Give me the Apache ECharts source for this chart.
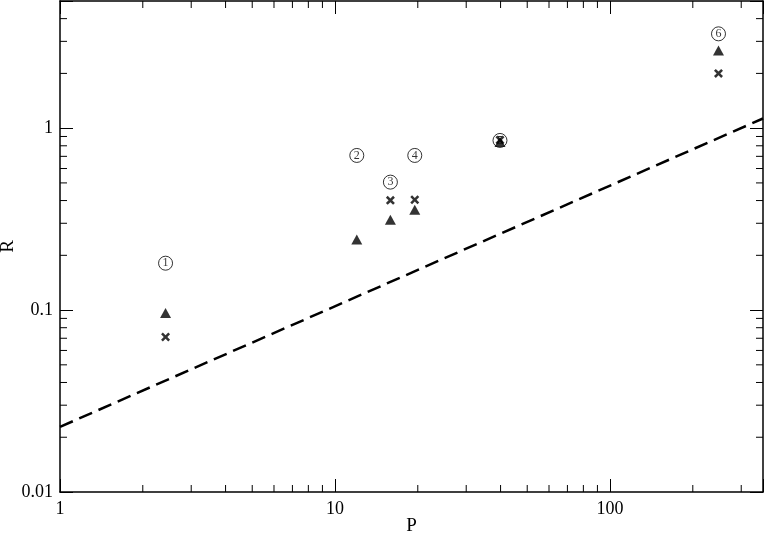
<!DOCTYPE html>
<html>
<head>
<meta charset="utf-8">
<script src="https://cdn.jsdelivr.net/npm/echarts@6/dist/echarts.min.js"></script>
<style>
  html, body { margin: 0; padding: 0; background: #fff; }
  #chart { width: 764px; height: 533px; }
</style>
</head>
<body>
<div id="chart"></div>
<script>
// values
var pValues = [2.42, 12.0, 15.9, 19.5, 39.8, 248];
var tagNames = ['1', '2', '3', '4', '5', '6'];
var tagR = [0.181, 0.708, 0.505, 0.708, 0.856, 3.30];
var triangleR = [0.0963, 0.244, 0.314, 0.356, 0.84, 2.67];
var crossR = [0.0711, null, 0.401, 0.404, 0.86, 2.00];
var fitLine = [[1, 0.0228], [360, 1.13]];

var xMin = 1, xMax = 360, yMin = 0.01, yMax = 5;
var xMinorTicks = [2, 3, 4, 5, 6, 7, 8, 9, 20, 30, 40, 50, 60, 70, 80, 90, 200, 300];
var yMinorTicks = [0.02, 0.03, 0.04, 0.05, 0.06, 0.07, 0.08, 0.09,
                   0.2, 0.3, 0.4, 0.5, 0.6, 0.7, 0.8, 0.9, 2, 3, 4];

var serif = '"Liberation Serif", "Times New Roman", Times, serif';
var crossPath = 'path://M0,2L2,0L5,3L8,0L10,2L7,5L10,8L8,10L5,7L2,10L0,8L3,5Z';

function pairs(ys) {
    var out = [];
    for (var i = 0; i < pValues.length; i++) {
        if (ys[i] != null) out.push([pValues[i], ys[i]]);
    }
    return out;
}

function decadeLabel(v) {
    var l = Math.log10(v);
    return Math.abs(l - Math.round(l)) < 1e-6 ? String(v) : '';
}

var frameLine = { onZero: false, lineStyle: { color: '#000', width: 1.5 } };
var majorTick = { inside: true, length: 13, lineStyle: { color: '#000', width: 1 } };

option = {
    animation: false,
    backgroundColor: '#fff',
    grid: { left: 60, right: 1, top: 1, bottom: 41, containLabel: false, outerBoundsMode: 'none' },
    xAxis: [{
        type: 'log', logBase: 10, min: xMin, max: xMax, position: 'bottom',
        axisLine: frameLine, axisTick: majorTick,
        axisLabel: { formatter: decadeLabel, color: '#000', fontFamily: serif, fontSize: 18, margin: 8 },
        splitLine: { show: false },
        name: 'P', nameLocation: 'middle', nameGap: 25, nameMoveOverlap: false,
        nameTextStyle: { color: '#000', fontFamily: serif, fontSize: 19 }
    }, {
        type: 'log', logBase: 10, min: xMin, max: xMax, position: 'top',
        axisLine: frameLine, axisTick: majorTick,
        axisLabel: { show: false }, splitLine: { show: false }
    }],
    yAxis: [{
        type: 'log', logBase: 10, min: yMin, max: yMax, position: 'left',
        axisLine: frameLine, axisTick: majorTick,
        axisLabel: { formatter: decadeLabel, color: '#000', fontFamily: serif, fontSize: 18, margin: 7 },
        splitLine: { show: false },
        name: 'R', nameLocation: 'middle', nameGap: 42, nameMoveOverlap: false,
        nameTextStyle: { color: '#000', fontFamily: serif, fontSize: 19 }
    }, {
        type: 'log', logBase: 10, min: yMin, max: yMax, position: 'right',
        axisLine: frameLine, axisTick: majorTick,
        axisLabel: { show: false }, splitLine: { show: false }
    }],
    series: [{
        type: 'custom',
        name: 'x minor ticks',
        silent: true,
        clip: false,
        data: xMinorTicks.map(function (v) { return [v, yMin]; }),
        renderItem: function (params, api) {
            var b = api.coord([api.value(0), yMin]);
            var t = api.coord([api.value(0), yMax]);
            var st = { stroke: '#000', lineWidth: 1 };
            return { type: 'group', children: [
                { type: 'line', shape: { x1: b[0], y1: b[1], x2: b[0], y2: b[1] - 7 }, style: st },
                { type: 'line', shape: { x1: t[0], y1: t[1], x2: t[0], y2: t[1] + 7 }, style: st }
            ] };
        }
    }, {
        type: 'custom',
        name: 'y minor ticks',
        silent: true,
        clip: false,
        data: yMinorTicks.map(function (v) { return [xMin, v]; }),
        renderItem: function (params, api) {
            var l = api.coord([xMin, api.value(1)]);
            var r = api.coord([xMax, api.value(1)]);
            var st = { stroke: '#000', lineWidth: 1 };
            return { type: 'group', children: [
                { type: 'line', shape: { x1: l[0], y1: l[1], x2: l[0] + 7, y2: l[1] }, style: st },
                { type: 'line', shape: { x1: r[0], y1: r[1], x2: r[0] - 7, y2: r[1] }, style: st }
            ] };
        }
    }, {
        type: 'line',
        name: 'fit',
        data: fitLine,
        symbol: 'none',
        lineStyle: { color: '#000', width: 2.5, type: [14, 7] }
    }, {
        type: 'scatter',
        name: 'tags',
        data: pairs(tagR),
        symbol: 'circle',
        symbolSize: 14,
        itemStyle: { color: '#fff', borderColor: '#000', borderWidth: 1 },
        label: {
            show: true, position: 'inside',
            formatter: function (p) { return tagNames[p.dataIndex]; },
            color: '#000', fontFamily: serif, fontSize: 12
        }
    }, {
        type: 'scatter',
        name: 'triangles',
        data: pairs(triangleR),
        symbol: 'triangle',
        symbolSize: [11, 10],
        itemStyle: { color: '#000' }
    }, {
        type: 'scatter',
        name: 'crosses',
        data: pairs(crossR),
        symbol: crossPath,
        symbolSize: 9,
        itemStyle: { color: '#000' }
    }]
};

var myChart = echarts.init(document.getElementById('chart'));
myChart.setOption(option);
</script>
</body>
</html>
